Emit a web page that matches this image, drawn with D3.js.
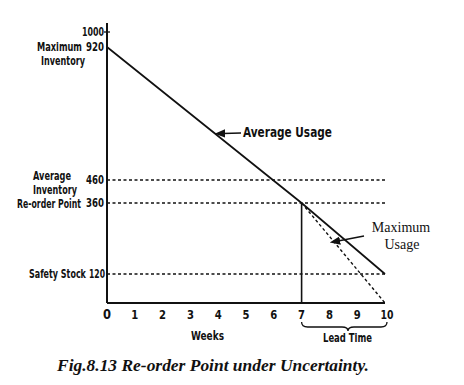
<!DOCTYPE html>
<html><head><meta charset="utf-8">
<script src="https://cdn.jsdelivr.net/npm/d3@7"></script>
<style>
body{margin:0;background:#fff;}
svg{display:block;}
.lbl{font-family:'DejaVu Sans Condensed','DejaVu Sans',sans-serif;font-stretch:condensed;font-weight:bold;font-size:13px;fill:#111;}
.nm{font-size:11.5px;}
.ser{font-family:'Liberation Serif','DejaVu Serif',serif;font-size:14px;fill:#111;}
.cap{font-family:'Liberation Serif','DejaVu Serif',serif;font-weight:bold;font-style:italic;font-size:17px;fill:#111;}
</style></head>
<body><svg id="c" width="464" height="385"></svg>
<script>
const weeks = [0,1,2,3,4,5,6,7,8,9,10];
const avgUsage = [[0,920],[7,360],[10,120]];
const maxUsage = [[7,360],[10,0]];
const levels = [460,360,120];
const yNumLabels = [1000,920,460,360,120];
const yNameLabels = [
  {v:920, text:"Maximum", x:37, w:45, dy:4},
  {v:920, text:"Inventory", x:41, w:44, dy:18},
  {v:460, text:"Average", x:33, w:38, dy:0},
  {v:460, text:"Inventory", x:33, w:44, dy:13.5},
  {v:360, text:"Re-order Point", x:17, w:64, dy:5},
  {v:120, text:"Safety Stock", x:29, w:57, dy:4}
];
const reorderWeek = 7, leadEnd = 10;

const svg = d3.select("#c");
const x = d3.scaleLinear().domain([0,10]).range([107,385]);
// hand-drawn axis is not perfectly uniform: piecewise scale through the labelled levels
const y = d3.scaleLinear().domain([0,120,360,460,920,1000]).range([303,274,203,180,47,32]);
const ink = "#111";

// place text so that it spans [x0, x0+w] using a horizontal scale transform
function placeText(sel, x0, y0, w, anchor){
  sel.each(function(){
    const n = this;
    const nat = n.getComputedTextLength();
    const s = w / nat;
    let left = x0;
    if(anchor==="end") left = x0 - w;
    if(anchor==="middle") left = x0 - w/2;
    d3.select(n).attr("x",0).attr("y",0).attr("text-anchor","start")
      .attr("transform",`translate(${left},${y0}) scale(${s},1)`);
  });
  return sel;
}

// axes
svg.append("line").attr("x1",x(0)).attr("x2",x(0)).attr("y1",23).attr("y2",y(0)).attr("stroke",ink).attr("stroke-width",2);
svg.append("line").attr("x1",x(0)).attr("x2",x(10)).attr("y1",y(0)).attr("y2",y(0)).attr("stroke",ink).attr("stroke-width",2);
svg.append("line").attr("x1",x(0)-3).attr("x2",x(0)+3).attr("y1",y(1000)).attr("y2",y(1000)).attr("stroke",ink).attr("stroke-width",1.3);

// x tick labels
svg.selectAll(".xt").data(weeks).enter().append("text").attr("class","lbl")
  .style("font-size",d=>d===0?"14px":"12px").text(d=>d)
  .each(function(d){ placeText(d3.select(this), x(d)+(d===10?2:0), y(0)+16, d===10?13:(d===0?8:7), "middle"); });

// y numbers
svg.selectAll(".yn").data(yNumLabels).enter().append("text").attr("class","lbl").text(d=>d)
  .each(function(d){ placeText(d3.select(this), d===120?105:104, y(d)+4, d===1000?22:(d===120?16:18), "end"); });
// y names
svg.selectAll(".ynm").data(yNameLabels).enter().append("text").attr("class","lbl nm").text(d=>d.text)
  .each(function(d){ placeText(d3.select(this), d.x, y(d.v)+d.dy, d.w, "start"); });

// dotted levels
svg.selectAll(".lv").data(levels).enter().append("line")
  .attr("x1",x(0)).attr("x2",x(10)).attr("y1",d=>y(d)).attr("y2",d=>y(d))
  .attr("stroke",ink).attr("stroke-width",1.3).attr("stroke-dasharray","3,2.5");

// reorder vertical
svg.append("line").attr("x1",x(reorderWeek)).attr("x2",x(reorderWeek)).attr("y1",y(360)).attr("y2",y(0)).attr("stroke",ink).attr("stroke-width",1.6);

const line = d3.line().x(d=>x(d[0])).y(d=>y(d[1]));
svg.append("path").attr("d",line(avgUsage)).attr("fill","none").attr("stroke",ink).attr("stroke-width",1.7);
svg.append("path").attr("d",line(maxUsage)).attr("fill","none").attr("stroke",ink).attr("stroke-width",1.4).attr("stroke-dasharray","3,2.5");

// arrows
svg.append("defs").append("marker").attr("id","ah").attr("viewBox","0 0 10 10").attr("refX",2).attr("refY",5)
  .attr("markerWidth",7).attr("markerHeight",7).attr("orient","auto-start-reverse")
  .append("path").attr("d","M0,1 L10,5 L0,9 z").attr("fill",ink);
svg.append("line").attr("x1",241).attr("y1",133).attr("x2",223).attr("y2",133.5).attr("stroke",ink).attr("stroke-width",1.5).attr("marker-end","url(#ah)");
placeText(svg.append("text").attr("class","lbl").style("font-size","14px").text("Average Usage"),243,137,89,"start");

svg.append("line").attr("x1",364).attr("y1",236).attr("x2",338).attr("y2",241).attr("stroke",ink).attr("stroke-width",1.5).attr("marker-end","url(#ah)");
svg.append("text").attr("class","ser").attr("x",401).attr("y",232).attr("text-anchor","middle").text("Maximum");
svg.append("text").attr("class","ser").attr("x",402).attr("y",249).attr("text-anchor","middle").text("Usage");

// Weeks
placeText(svg.append("text").attr("class","lbl").style("font-size","13px").text("Weeks"),191,340,33,"start");

// bracket
const bx1 = x(reorderWeek), bx2 = x(leadEnd)+2, by = 327, bm=348;
svg.append("path").attr("d",`M${bx1},${by-5} Q${bx1},${by} ${bx1+6},${by} L${bm-6},${by} Q${bm},${by} ${bm},${by+4} Q${bm},${by} ${bm+6},${by} L${bx2-6},${by} Q${bx2},${by} ${bx2},${by-5}`)
  .attr("fill","none").attr("stroke",ink).attr("stroke-width",1.3);
placeText(svg.append("text").attr("class","lbl").style("font-size","12px").text("Lead Time"),323,342,49,"start");

// caption
placeText(svg.append("text").attr("class","cap").text("Fig.8.13 Re-order Point under Uncertainty."),57,371,312,"start");
</script></body></html>
